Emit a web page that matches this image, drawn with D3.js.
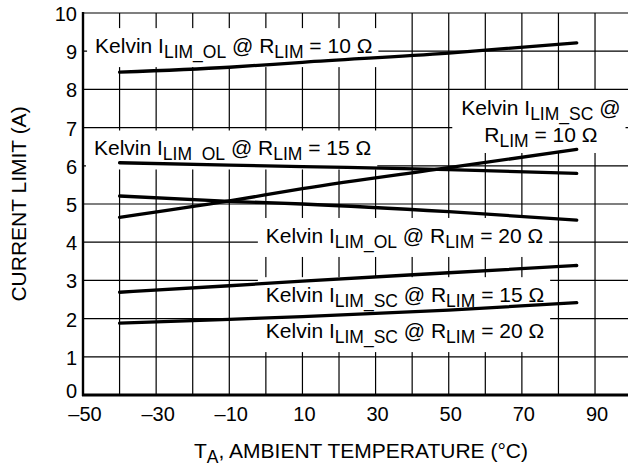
<!DOCTYPE html>
<html>
<head>
<meta charset="utf-8">
<script src="https://cdn.jsdelivr.net/npm/d3@7"></script>
<style>
	body { margin: 0; background: #fff; }
	svg { display: block; font-family: "Liberation Sans", Arial, Helvetica, sans-serif; }
	.grid line { stroke: #000; stroke-width: 1.2; }
	.curve { fill: none; stroke: #000; stroke-width: 3.3; stroke-linecap: round; }
</style>
</head>
<body>
<svg id="chart" width="628" height="467"></svg>
<script>
	'use strict';

	// temperature points (°C) the curves are read at
	var temps = [-40, -10, 10, 50, 85];

	// current limit (A) for each curve
	var olR10 = [8.45, 8.58, 8.71, 8.95, 9.22];
	var olR15 = [6.08, 6.02, 5.98, 5.90, 5.80];
	var olR20 = [5.21, 5.07, 5.00, 4.80, 4.58];
	var scR10 = [4.65, 5.08, 5.40, 5.95, 6.43];
	var scR15 = [2.69, 2.86, 2.98, 3.20, 3.39];
	var scR20 = [1.88, 1.98, 2.05, 2.22, 2.42];

	var xTickValues = [-50, -30, -10, 10, 30, 50, 70, 90];
	var yTickValues = [0, 1, 2, 3, 4, 5, 6, 7, 8, 9, 10];

	// labels: [mode, resistance], anchored in data units (temp, current)
	var labelKinds = [['OL', '10'], ['OL', '15'], ['SC', '10'], ['OL', '20'], ['SC', '15'], ['SC', '20']];
	var labelAt = [[-46.7, 8.95], [-47, 6.27], [75.2, 7.33], [0, 3.98], [0, 2.43], [0, 1.49]];

	var svg = d3.select('#chart');
	var x = d3.scaleLinear().domain([-50, 100]).range([83, 631.6]);
	var y = d3.scaleLinear().domain([0, 10]).range([395, 13]);

	/** grid */
	var grid = svg.append('g').attr('class', 'grid');
	grid.selectAll('.v').data(d3.range(-40, 100, 10)).enter().append('line')
		.attr('x1', x).attr('x2', x).attr('y1', y(0)).attr('y2', y(10));
	grid.selectAll('.h').data(d3.range(1, 11)).enter().append('line')
		.attr('x1', x(-50)).attr('x2', 628).attr('y1', y).attr('y2', y);

	/** rich text: parts are [text, isSubscript] */
	var writeParts = function(t, parts) {
		var shift = 0;
		parts.forEach(function(p) {
			var target = p[1] ? 5 : 0;
			var ts = t.append('tspan').attr('dy', target - shift).text(p[0]);
			if (p[1]) ts.attr('font-size', 17.5);
			shift = target;
		});
	};
	var labelParts = function(kind) {
		return [['Kelvin I'], ['LIM_' + kind[0], true], [' @ R'], ['LIM', true], [' = ' + kind[1] + ' \u03a9']];
	};

	var labels = svg.append('g').attr('font-size', 21);
	labelKinds.forEach(function(kind, i) {
		var g = labels.append('g');
		var box = g.append('rect').attr('fill', '#fff');
		var px = x(labelAt[i][0]), py = y(labelAt[i][1]);
		if (i === 2) {
			var t1 = g.append('text').attr('x', px).attr('y', py).attr('text-anchor', 'middle');
			writeParts(t1, [['Kelvin I'], ['LIM_' + kind[0], true], [' @']]);
			var t2 = g.append('text').attr('x', px).attr('y', py + 27).attr('text-anchor', 'middle');
			writeParts(t2, [['R'], ['LIM', true], [' = ' + kind[1] + ' \u03a9']]);
			var b1 = t1.node().getBBox(), b2 = t2.node().getBBox();
			var bx0 = Math.min(b1.x, b2.x), bx1 = Math.max(b1.x + b1.width, b2.x + b2.width);
			box.attr('x', bx0 - 9).attr('width', bx1 - bx0 + 14)
				.attr('y', b1.y - 6).attr('height', b2.y + b2.height - b1.y + 8);
		} else {
			var t = g.append('text').attr('x', px).attr('y', py);
			writeParts(t, labelParts(kind));
			var b = t.node().getBBox();
			box.attr('x', b.x - 8).attr('width', b.width + 14).attr('y', b.y - 6).attr('height', b.height + 10);
		}
	});

	/** axes frame */
	svg.append('line').attr('x1', x(-50)).attr('x2', x(-50)).attr('y1', y(10) - 1).attr('y2', y(0) + 1)
		.attr('stroke', '#000').attr('stroke-width', 2.4);
	svg.append('line').attr('x1', x(-50) - 1).attr('x2', 628).attr('y1', y(0)).attr('y2', y(0))
		.attr('stroke', '#000').attr('stroke-width', 3);

	/** curves */
	var line = d3.line().curve(d3.curveMonotoneX)
		.x(function(d) { return x(d[0]); }).y(function(d) { return y(d[1]); });
	[olR10, olR15, olR20, scR10, scR15, scR20].forEach(function(series) {
		svg.append('path').attr('class', 'curve').attr('d', line(d3.zip(temps, series)));
	});

	/** tick labels */
	svg.append('g').selectAll('text').data(xTickValues).enter().append('text')
		.attr('x', function(d) { return x(d) + 2; }).attr('y', 421).attr('text-anchor', 'middle')
		.attr('font-size', 20).text(function(d) { return d < 0 ? '\u2013' + Math.abs(d) : d; });
	svg.append('g').selectAll('text').data(yTickValues).enter().append('text')
		.attr('x', 77).attr('y', function(d) { return y(d) + (d === 0 ? 3 : 8); }).attr('text-anchor', 'end')
		.attr('font-size', 20).text(function(d) { return d; });

	/** axis titles */
	var xt = svg.append('text').attr('x', 361).attr('y', 458).attr('text-anchor', 'middle').attr('font-size', 21);
	writeParts(xt, [['T'], ['A', true], [', AMBIENT TEMPERATURE (\u00b0C)']]);

	svg.append('text').attr('transform', 'translate(26,' + y(5) + ') rotate(-90)')
		.attr('text-anchor', 'middle').attr('font-size', 21).text('CURRENT LIMIT (A)');
</script>
</body>
</html>
